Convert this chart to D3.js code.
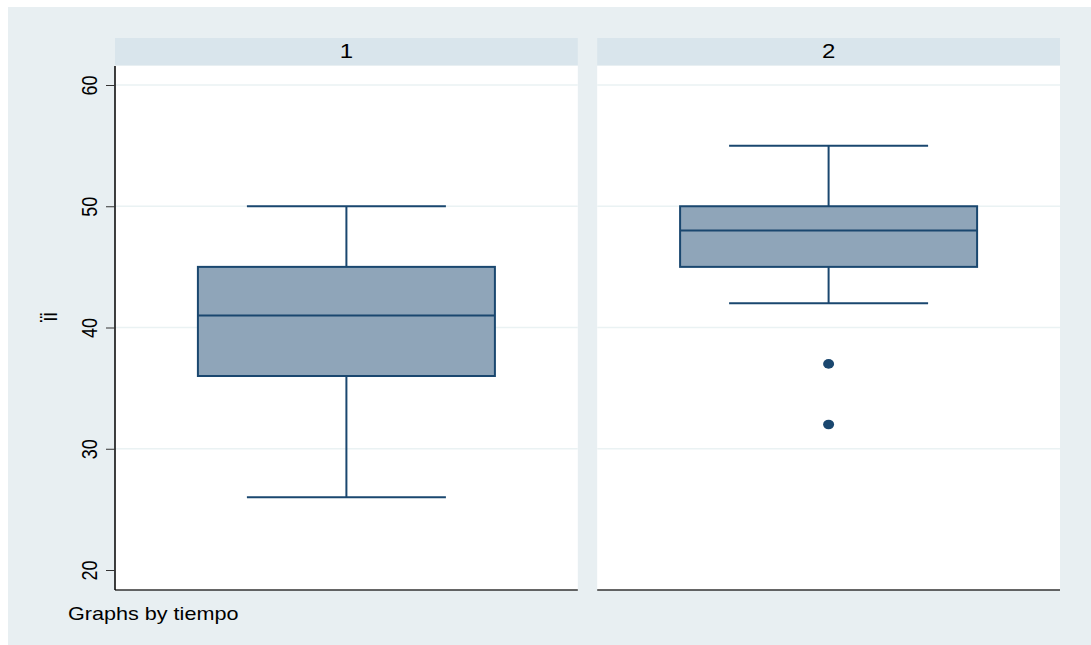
<!DOCTYPE html>
<html>
<head>
<meta charset="utf-8">
<script src="https://cdn.jsdelivr.net/npm/d3@7"></script>
<style>
  html, body { margin: 0; padding: 0; background: #ffffff; }
  svg { display: block; }
</style>
</head>
<body>
<div id="chart"></div>
<script>
// Groups (facets by tiempo)
const groups = ["1", "2"];
// Box statistics per group: lower whisker, Q1, median, Q3, upper whisker
const whiskerLow = [26, 42];
const q1 = [36, 45];
const median = [41, 48];
const q3 = [45, 50];
const whiskerHigh = [50, 55];
// Outlying points per group
const outliers = [[], [37, 32]];
// Y axis ticks
const yTicks = [20, 30, 40, 50, 60];

const W = 1091, H = 645;
const FONT = "Liberation Sans, Arial, sans-serif";
const SX = 1.2; // text is drawn slightly wide
const svg = d3.select("#chart").append("svg").attr("width", W).attr("height", H);

// Outer graph region
svg.append("rect").attr("x", 8).attr("y", 7).attr("width", W - 8).attr("height", H - 7)
  .attr("fill", "#e8eff2");

const panelTop = 66, panelBottom = 590, headerTop = 38;
const y = d3.scaleLinear().domain([20, 60]).range([570, 85]);

// Facet columns
const panelX = d3.scaleBand().domain(groups).range([115, 1060]).paddingInner(19 / 472.5);

const navy = "#1a476f";
const boxFill = "#8fa5b9";

groups.forEach((g, i) => {
  const x0 = panelX(g);
  const w = panelX.bandwidth();
  const x1 = x0 + w;
  const cx = x0 + w / 2;
  const panel = svg.append("g");

  // header strip
  panel.append("rect").attr("x", x0).attr("y", headerTop).attr("width", w).attr("height", panelTop - 1 - headerTop)
    .attr("fill", "#d9e5ec");
  panel.append("text").attr("transform", `translate(${cx},58) scale(${SX},1)`)
    .attr("text-anchor", "middle").attr("font-family", FONT)
    .attr("font-size", 20).attr("fill", "#000").text(g);

  // plot area
  panel.append("rect").attr("x", x0).attr("y", panelTop).attr("width", w).attr("height", panelBottom - panelTop)
    .attr("fill", "#ffffff");

  // gridlines
  panel.selectAll(".grid").data(yTicks.slice(1)).enter().append("line")
    .attr("x1", x0).attr("x2", x1)
    .attr("y1", d => y(d)).attr("y2", d => y(d))
    .attr("stroke", "#eaf2f3").attr("stroke-width", 1.5);

  // bottom axis line
  panel.append("line").attr("x1", x0).attr("x2", x1).attr("y1", panelBottom).attr("y2", panelBottom)
    .attr("stroke", "#333").attr("stroke-width", 1.5);

  const halfBox = 148.5, halfCap = 99.5;

  // whiskers
  panel.append("line").attr("x1", cx).attr("x2", cx).attr("y1", y(q3[i])).attr("y2", y(whiskerHigh[i]))
    .attr("stroke", navy).attr("stroke-width", 2);
  panel.append("line").attr("x1", cx).attr("x2", cx).attr("y1", y(q1[i])).attr("y2", y(whiskerLow[i]))
    .attr("stroke", navy).attr("stroke-width", 2);
  [whiskerHigh[i], whiskerLow[i]].forEach(v => {
    panel.append("line").attr("x1", cx - halfCap).attr("x2", cx + halfCap).attr("y1", y(v)).attr("y2", y(v))
      .attr("stroke", navy).attr("stroke-width", 2);
  });

  // box
  panel.append("rect").attr("x", cx - halfBox).attr("width", halfBox * 2)
    .attr("y", y(q3[i])).attr("height", y(q1[i]) - y(q3[i]))
    .attr("fill", boxFill).attr("stroke", navy).attr("stroke-width", 2);
  panel.append("line").attr("x1", cx - halfBox).attr("x2", cx + halfBox)
    .attr("y1", y(median[i])).attr("y2", y(median[i]))
    .attr("stroke", navy).attr("stroke-width", 2);

  // outliers
  panel.selectAll(".out").data(outliers[i]).enter().append("ellipse")
    .attr("cx", cx).attr("cy", d => y(d)).attr("rx", 5.5).attr("ry", 4.8).attr("fill", navy);

  if (i === 0) {
    // y axis
    const axis = d3.axisLeft(y).tickValues(yTicks).tickSize(9).tickPadding(6);
    const ag = svg.append("g").attr("transform", `translate(${x0},0)`).call(axis);
    ag.select(".domain").attr("d", `M0,${panelTop}V${panelBottom}`).attr("stroke", "#000").attr("stroke-width", 1.5);
    ag.selectAll(".tick line").attr("stroke", "#333").attr("stroke-width", 1);
    ag.selectAll(".tick text")
      .attr("font-family", FONT).attr("font-size", 18).attr("fill", "#000")
      .attr("text-anchor", "middle").attr("dy", 0).attr("x", 0).attr("y", 0)
      .attr("transform", `translate(-18,0) scale(${SX},1) rotate(-90)`);
  }
});

// y axis title
svg.append("text").attr("transform", `translate(57,317) scale(${SX},1) rotate(-90)`)
  .attr("text-anchor", "middle").attr("font-family", FONT)
  .attr("font-size", 20).attr("fill", "#000").text("ïi");

// note
svg.append("text").attr("transform", `translate(68,620) scale(${SX},1)`)
  .attr("font-family", FONT).attr("font-size", 18).attr("fill", "#000")
  .text("Graphs by tiempo");
</script>
</body>
</html>
